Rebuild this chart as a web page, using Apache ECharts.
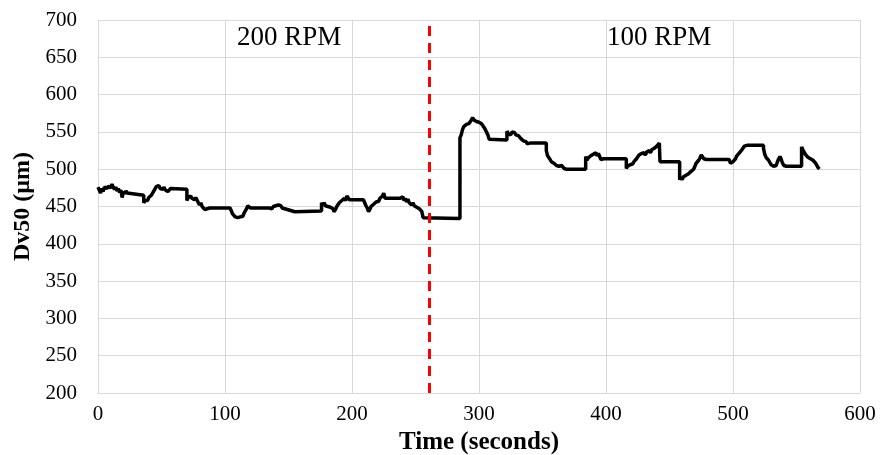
<!DOCTYPE html>
<html>
<head>
<meta charset="utf-8">
<script src="https://cdn.jsdelivr.net/npm/echarts@6/dist/echarts.min.js"></script>
<style>
  html, body { margin: 0; padding: 0; background: #fff; }
  #chart { width: 880px; height: 455px; }
</style>
</head>
<body>
<div id="chart"></div>
<script>
// Dv50 trace: [time (s), Dv50 (µm)]
const dv50 = [
  [0, 476], [1, 472], [2, 468], [3, 474], [4, 470], [5, 476], [6, 478], [7, 474], [8, 477], [9, 479],
  [10, 475], [11, 480], [12, 476], [13, 473], [14, 476], [15, 471], [16, 474], [17, 469], [18, 472], [19, 462],
  [20, 470], [21, 467], [22, 471], [23, 468], [24, 466], [36, 465],
  [36, 455], [37, 458], [38, 460], [39, 458], [40, 462], [41, 461], [42, 465], [43, 468], [44, 470], [45, 474],
  [46, 477], [47, 476], [48, 478], [49, 474], [50, 476], [51, 473], [52, 476], [53, 472], [54, 474], [55, 470],
  [56, 472], [57, 474], [58, 473], [70, 473],
  [70, 458], [71, 462], [72, 460], [73, 464], [74, 461], [75, 463], [76, 459], [77, 462], [78, 460], [79, 455],
  [80, 452], [81, 455], [82, 450], [83, 448], [84, 446], [85, 445], [86, 447], [87, 448], [88, 448], [104, 448],
  [105, 444], [106, 440], [107, 438], [108, 436], [109, 437], [110, 435], [111, 437], [112, 436], [113, 438], [114, 437],
  [115, 441], [116, 444], [117, 447], [118, 451], [119, 449], [120, 448], [121, 448], [135, 448],
  [136, 449], [137, 447], [138, 450], [139, 448], [140, 451], [141, 449], [142, 452], [143, 450], [144, 451], [145, 448],
  [146, 450], [147, 447], [148, 449], [149, 446], [150, 448], [151, 445], [152, 447], [153, 444], [154, 446], [155, 443],
  [156, 444], [176, 444],
  [176, 455], [177, 452], [178, 455], [179, 451], [180, 453], [181, 450], [182, 452], [183, 449], [184, 451], [185, 447],
  [186, 443], [187, 446], [188, 450], [189, 452], [190, 455], [191, 454], [192, 458], [193, 457], [194, 461], [195, 458],
  [196, 464], [197, 466], [198, 459], [209, 459],
  [210, 455], [211, 451], [212, 448], [213, 443], [214, 446], [215, 450], [216, 449], [217, 453], [218, 452], [219, 456],
  [220, 458], [221, 457], [222, 461], [223, 460], [224, 464], [225, 468], [226, 461], [238, 461],
  [239, 459], [240, 463], [241, 458], [242, 461], [243, 456], [244, 460], [245, 455], [246, 457], [247, 452], [248, 455],
  [249, 451], [250, 453], [251, 449], [252, 451], [253, 447], [254, 448], [255, 443], [256, 435], [256, 434], [285, 434],
  [285, 542], [286, 546], [287, 553], [288, 557], [289, 556], [290, 560], [291, 558], [292, 561], [293, 563], [294, 566],
  [295, 569], [296, 566], [297, 567], [298, 564], [299, 566], [300, 563], [301, 564], [302, 561], [303, 559], [304, 556],
  [305, 553], [306, 551], [307, 546], [308, 540], [309, 539], [322, 539],
  [322, 551], [323, 548], [324, 549], [325, 546], [326, 550], [327, 548], [328, 549], [329, 546], [330, 548], [331, 545],
  [332, 544], [333, 541], [334, 540], [335, 538], [336, 536], [337, 537], [338, 534], [339, 535], [340, 535], [353, 535],
  [353, 525], [354, 518], [355, 516], [356, 513], [357, 510], [358, 511], [359, 508], [360, 506], [361, 505], [362, 507],
  [363, 504], [364, 502], [365, 505], [366, 503], [367, 501], [368, 503], [369, 500], [370, 500], [384, 500],
  [384, 517], [385, 512], [386, 515], [387, 514], [388, 518], [389, 516], [390, 520], [391, 519], [392, 522], [393, 518],
  [394, 521], [395, 517], [396, 513], [397, 515], [398, 514], [399, 514], [416, 514],
  [416, 501], [417, 504], [418, 502], [419, 506], [420, 508], [421, 507], [422, 510], [423, 509], [424, 514], [425, 516],
  [426, 519], [427, 517], [428, 521], [429, 520], [430, 522], [431, 519], [432, 523], [433, 521], [434, 525], [435, 522],
  [436, 526], [437, 524], [438, 528], [439, 527], [440, 531], [441, 533], [442, 535], [442.5, 510], [458, 510],
  [458, 486], [459, 489], [460, 486], [461, 490], [462, 488], [463, 492], [464, 490], [465, 494], [466, 493], [467, 497],
  [468, 496], [469, 500], [470, 504], [471, 508], [472, 507], [473, 512], [474, 515], [475, 519], [476, 517], [477, 514],
  [478, 515], [479, 513], [497, 513],
  [498, 508], [499, 506], [500, 510], [501, 508], [502, 514], [503, 518], [504, 517], [505, 522], [506, 520], [507, 526],
  [508, 528], [509, 531], [510, 533], [511, 532], [524, 532],
  [524, 528], [525, 520], [526, 516], [527, 518], [528, 512], [529, 510], [530, 506], [531, 508], [532, 504], [533, 502],
  [534, 505], [535, 510], [536, 514], [537, 517], [538, 513], [539, 508], [540, 505], [541, 503], [542, 504], [543, 504],
  [554, 504],
  [554, 530], [555, 526], [556, 524], [557, 520], [558, 522], [559, 516], [560, 518], [561, 514], [562, 516], [563, 512],
  [564, 510], [565, 508], [566, 505], [567, 502], [568, 500]
]

// speed change marker and phase labels
const switchTime = 261
const phaseLabels = ['200 RPM', '100 RPM']

const serif = 'Liberation Serif'
const gridColor = '#d9d9d9'

const chart = echarts.init(document.getElementById('chart'))

chart.setOption({
  backgroundColor: '#fff',
  animation: false,
  grid: { left: 98, right: 20, top: 20, bottom: 62, outerBoundsMode: 'none' },
  graphic: [
    {
      type: 'text', left: 237, top: 24,
      style: { text: phaseLabels[0], font: '27px "Liberation Serif"', fill: '#000' }
    },
    {
      type: 'text', left: 607, top: 24,
      style: { text: phaseLabels[1], font: '27px "Liberation Serif"', fill: '#000' }
    }
  ],
  xAxis: {
    type: 'value',
    min: 0,
    max: 600,
    interval: 100,
    name: 'Time (seconds)',
    nameLocation: 'middle',
    nameGap: 33,
    nameTextStyle: { fontFamily: serif, fontSize: 25, fontWeight: 'bold', color: '#000' },
    axisLine: { lineStyle: { color: gridColor, width: 1 } },
    axisTick: { show: false },
    axisLabel: { fontFamily: serif, fontSize: 21, color: '#000', margin: 11 },
    splitLine: { lineStyle: { color: gridColor, width: 1 } }
  },
  yAxis: {
    type: 'value',
    min: 200,
    max: 700,
    interval: 50,
    name: 'Dv50 (µm)',
    nameLocation: 'middle',
    nameGap: 63,
    nameTextStyle: { fontFamily: serif, fontSize: 24, fontWeight: 'bold', color: '#000' },
    axisLine: { show: true, lineStyle: { color: gridColor, width: 1 } },
    axisTick: { show: false },
    axisLabel: { fontFamily: serif, fontSize: 21, color: '#000', margin: 21 },
    splitLine: { lineStyle: { color: gridColor, width: 1 } }
  },
  series: [
    {
      type: 'line',
      data: dv50,
      symbol: 'none',
      lineStyle: { color: '#000', width: 3.5 },
      markLine: {
        silent: true,
        symbol: 'none',
        label: { show: false },
        lineStyle: { color: '#ff0000', width: 3, type: [10, 7] },
        data: [{ xAxis: switchTime }]
      }
    }
  ]
})
</script>
</body>
</html>
